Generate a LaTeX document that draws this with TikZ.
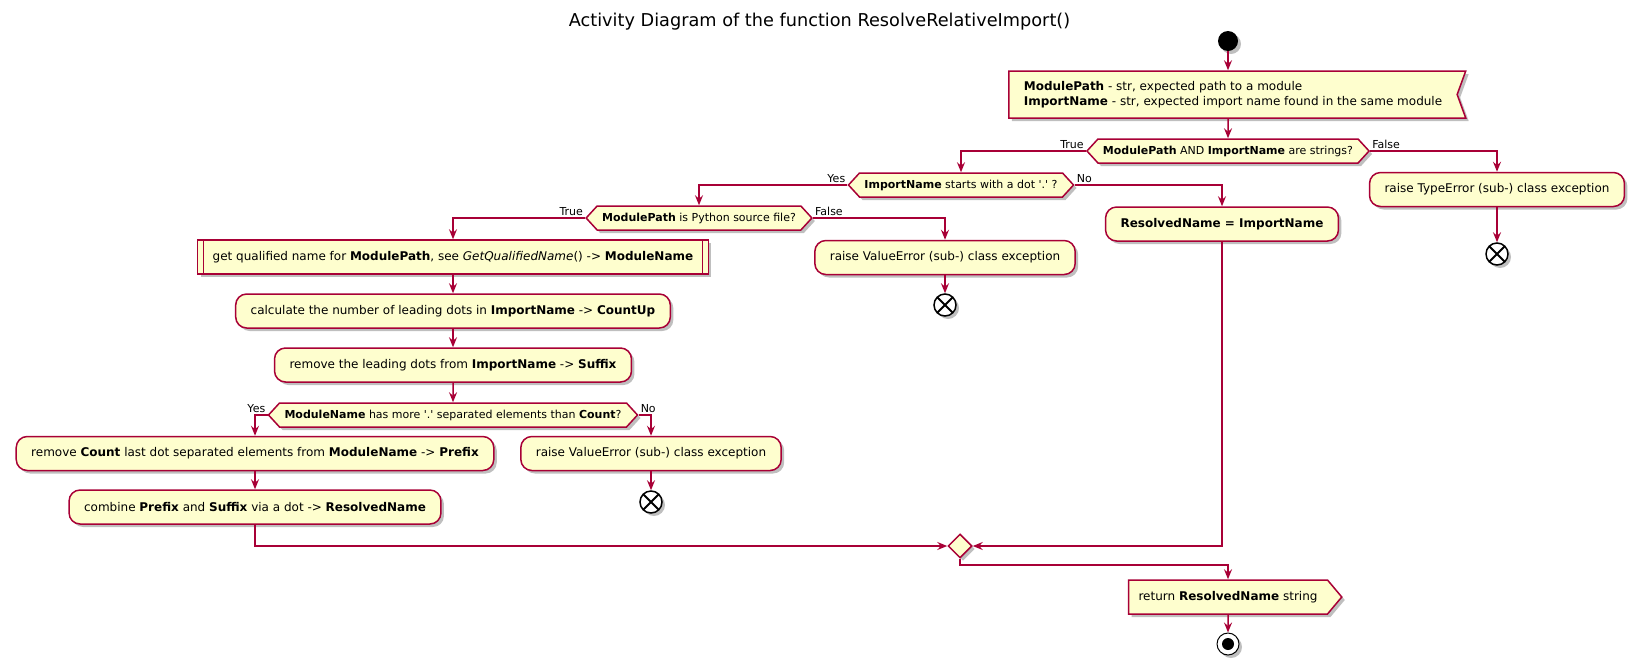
\documentclass[tikz,border=0pt]{standalone}
\usepackage{fontspec}
\setmainfont{DejaVu Sans}
\usepackage{xcolor}
\usetikzlibrary{shapes.symbols,shapes.geometric,shadows,arrows.meta}
\definecolor{crim}{HTML}{A80036}
\definecolor{note}{HTML}{FEFECE}

\begin{document}
\begin{tikzpicture}[
    x=1pt, y=-1pt,
    every node/.style={font=\fontsize{12}{14.5}\selectfont},
    dshadow/.style={drop shadow={shadow xshift=3pt, shadow yshift=-3pt, fill=black, opacity=.25}},
    act/.style={draw=crim, fill=note, line width=1.5pt, rectangle, rounded corners=11pt,
        minimum height=34pt, inner xsep=15pt, dshadow},
    subproc/.style={draw=crim, fill=note, line width=1.5pt, rectangle, minimum height=34pt,
        inner xsep=15pt, dshadow,
        path picture={\draw[crim, line width=1.5pt]
            ([xshift=6pt]path picture bounding box.north west) -- ([xshift=6pt]path picture bounding box.south west)
            ([xshift=-6pt]path picture bounding box.north east) -- ([xshift=-6pt]path picture bounding box.south east);}},
    cond/.style={draw=crim, fill=note, line width=1.5pt, signal, signal to=east and west,
        signal pointer angle=95, minimum height=24pt, inner xsep=5pt, inner ysep=1pt,
        font=\fontsize{11}{13}\selectfont, dshadow},
    recvsig/.style={draw=crim, fill=note, line width=1.5pt, signal, signal from=east, signal to=nowhere,
        signal pointer angle=140, minimum height=47pt, inner xsep=15pt, dshadow},
    sendsig/.style={draw=crim, fill=note, line width=1.5pt, signal, signal to=east, signal from=nowhere,
        signal pointer angle=100, minimum height=34pt, inner xsep=10pt, dshadow},
    merge/.style={draw=crim, fill=note, line width=1.5pt, diamond, minimum size=24pt, inner sep=0pt, dshadow},
    xend/.style={circle, draw=black, fill=white, line width=1.5pt, minimum size=22pt, inner sep=0pt, dshadow,
        path picture={\draw[black, line width=2pt]
            (path picture bounding box.north west) -- (path picture bounding box.south east)
            (path picture bounding box.north east) -- (path picture bounding box.south west);}},
    fin/.style={circle, draw=black, fill=white, line width=1pt, minimum size=22pt, inner sep=0pt, dshadow,
        path picture={\fill[black] (path picture bounding box.center) circle (6pt);}},
    lbl/.style={font=\fontsize{11}{13}\selectfont, inner sep=1.5pt},
    flow/.style={draw=crim, line width=1.5pt, -{Stealth[length=10pt, width=8pt, inset=3.5pt]}}
]
\useasboundingbox (0,0) rectangle (1641,670);

\node (title) at (819.5,22) {\fontsize{17.7}{20}\selectfont Activity Diagram of the function ResolveRelativeImport()};

\node[circle, fill=black, minimum size=20pt, inner sep=0pt, dshadow] (start) at (1228,41) {};
\node[recvsig, align=left] (inp) at (1233,94.5) {\textbf{ModulePath} - str, expected path to a module\\\textbf{ImportName} - str, expected import name found in the same module};
\node[cond] (isstr) at (1228,151) {\textbf{ModulePath} AND \textbf{ImportName} are strings?};
\node[act] (typeerr) at (1497,189.5) {raise TypeError (sub-) class exception};
\node[xend] (endA) at (1497,254) {};
\node[cond] (isdot) at (961,185) {\textbf{ImportName} starts with a dot \textquotesingle.\textquotesingle\ ?};
\node[act] (resolved) at (1222,224) {\textbf{ResolvedName = ImportName}};
\node[cond] (ispy) at (699,218) {\textbf{ModulePath} is Python source file?};
\node[act] (valerrA) at (945,257.5) {raise ValueError (sub-) class exception};
\node[xend] (endB) at (945,305) {};
\node[subproc] (qualname) at (453,257) {get qualified name for \textbf{ModulePath}, see \textit{GetQualifiedName}() -> \textbf{ModuleName}};
\node[act] (countup) at (453,311) {calculate the number of leading dots in \textbf{ImportName} -> \textbf{CountUp}};
\node[act] (suffix) at (453,365) {remove the leading dots from \textbf{ImportName} -> \textbf{Suffix}};
\node[cond] (haselems) at (453,415) {\textbf{ModuleName} has more \textquotesingle.\textquotesingle\ separated elements than \textbf{Count}?};
\node[act] (prefix) at (255,453.5) {remove \textbf{Count} last dot separated elements from \textbf{ModuleName} -> \textbf{Prefix}};
\node[act] (combine) at (255,507) {combine \textbf{Prefix} and \textbf{Suffix} via a dot -> \textbf{ResolvedName}};
\node[act] (valerrB) at (651,453.5) {raise ValueError (sub-) class exception};
\node[xend] (endC) at (651,502) {};
\node[merge] (join) at (960,546) {};
\node[sendsig] (ret) at (1228,597) {return \textbf{ResolvedName} string};
\node[fin] (stop) at (1228,644) {};

\draw[flow] (start) -- (start |- inp.north);
\draw[flow] (start |- inp.south) -- (isstr);
\draw[flow] (isstr.west) node[lbl, anchor=south east] {True} -| (isdot.north);
\draw[flow] (isstr.east) node[lbl, anchor=south west] {False} -| (typeerr.north);
\draw[flow] (typeerr) -- (endA);
\draw[flow] (isdot.west) node[lbl, anchor=south east] {Yes} -| (ispy.north);
\draw[flow] (isdot.east) node[lbl, anchor=south west] {No} -| (resolved.north);
\draw[flow] (ispy.west) node[lbl, anchor=south east] {True} -| (qualname.north);
\draw[flow] (ispy.east) node[lbl, anchor=south west] {False} -| (valerrA.north);
\draw[flow] (valerrA) -- (endB);
\draw[flow] (qualname) -- (countup);
\draw[flow] (countup) -- (suffix);
\draw[flow] (suffix) -- (haselems);
\draw[flow] (haselems.west) node[lbl, anchor=south east] {Yes} -| (prefix.north);
\draw[flow] (haselems.east) node[lbl, anchor=south west] {No} -| (valerrB.north);
\draw[flow] (valerrB) -- (endC);
\draw[flow] (prefix) -- (combine);
\draw[flow] (combine.south) |- (join.west);
\draw[flow] (resolved.south) |- (join.east);
\draw[flow] (join.south) -- ++(0,6) -| (ret.north);
\draw[flow] (ret) -- (stop);
\end{tikzpicture}
\end{document}
